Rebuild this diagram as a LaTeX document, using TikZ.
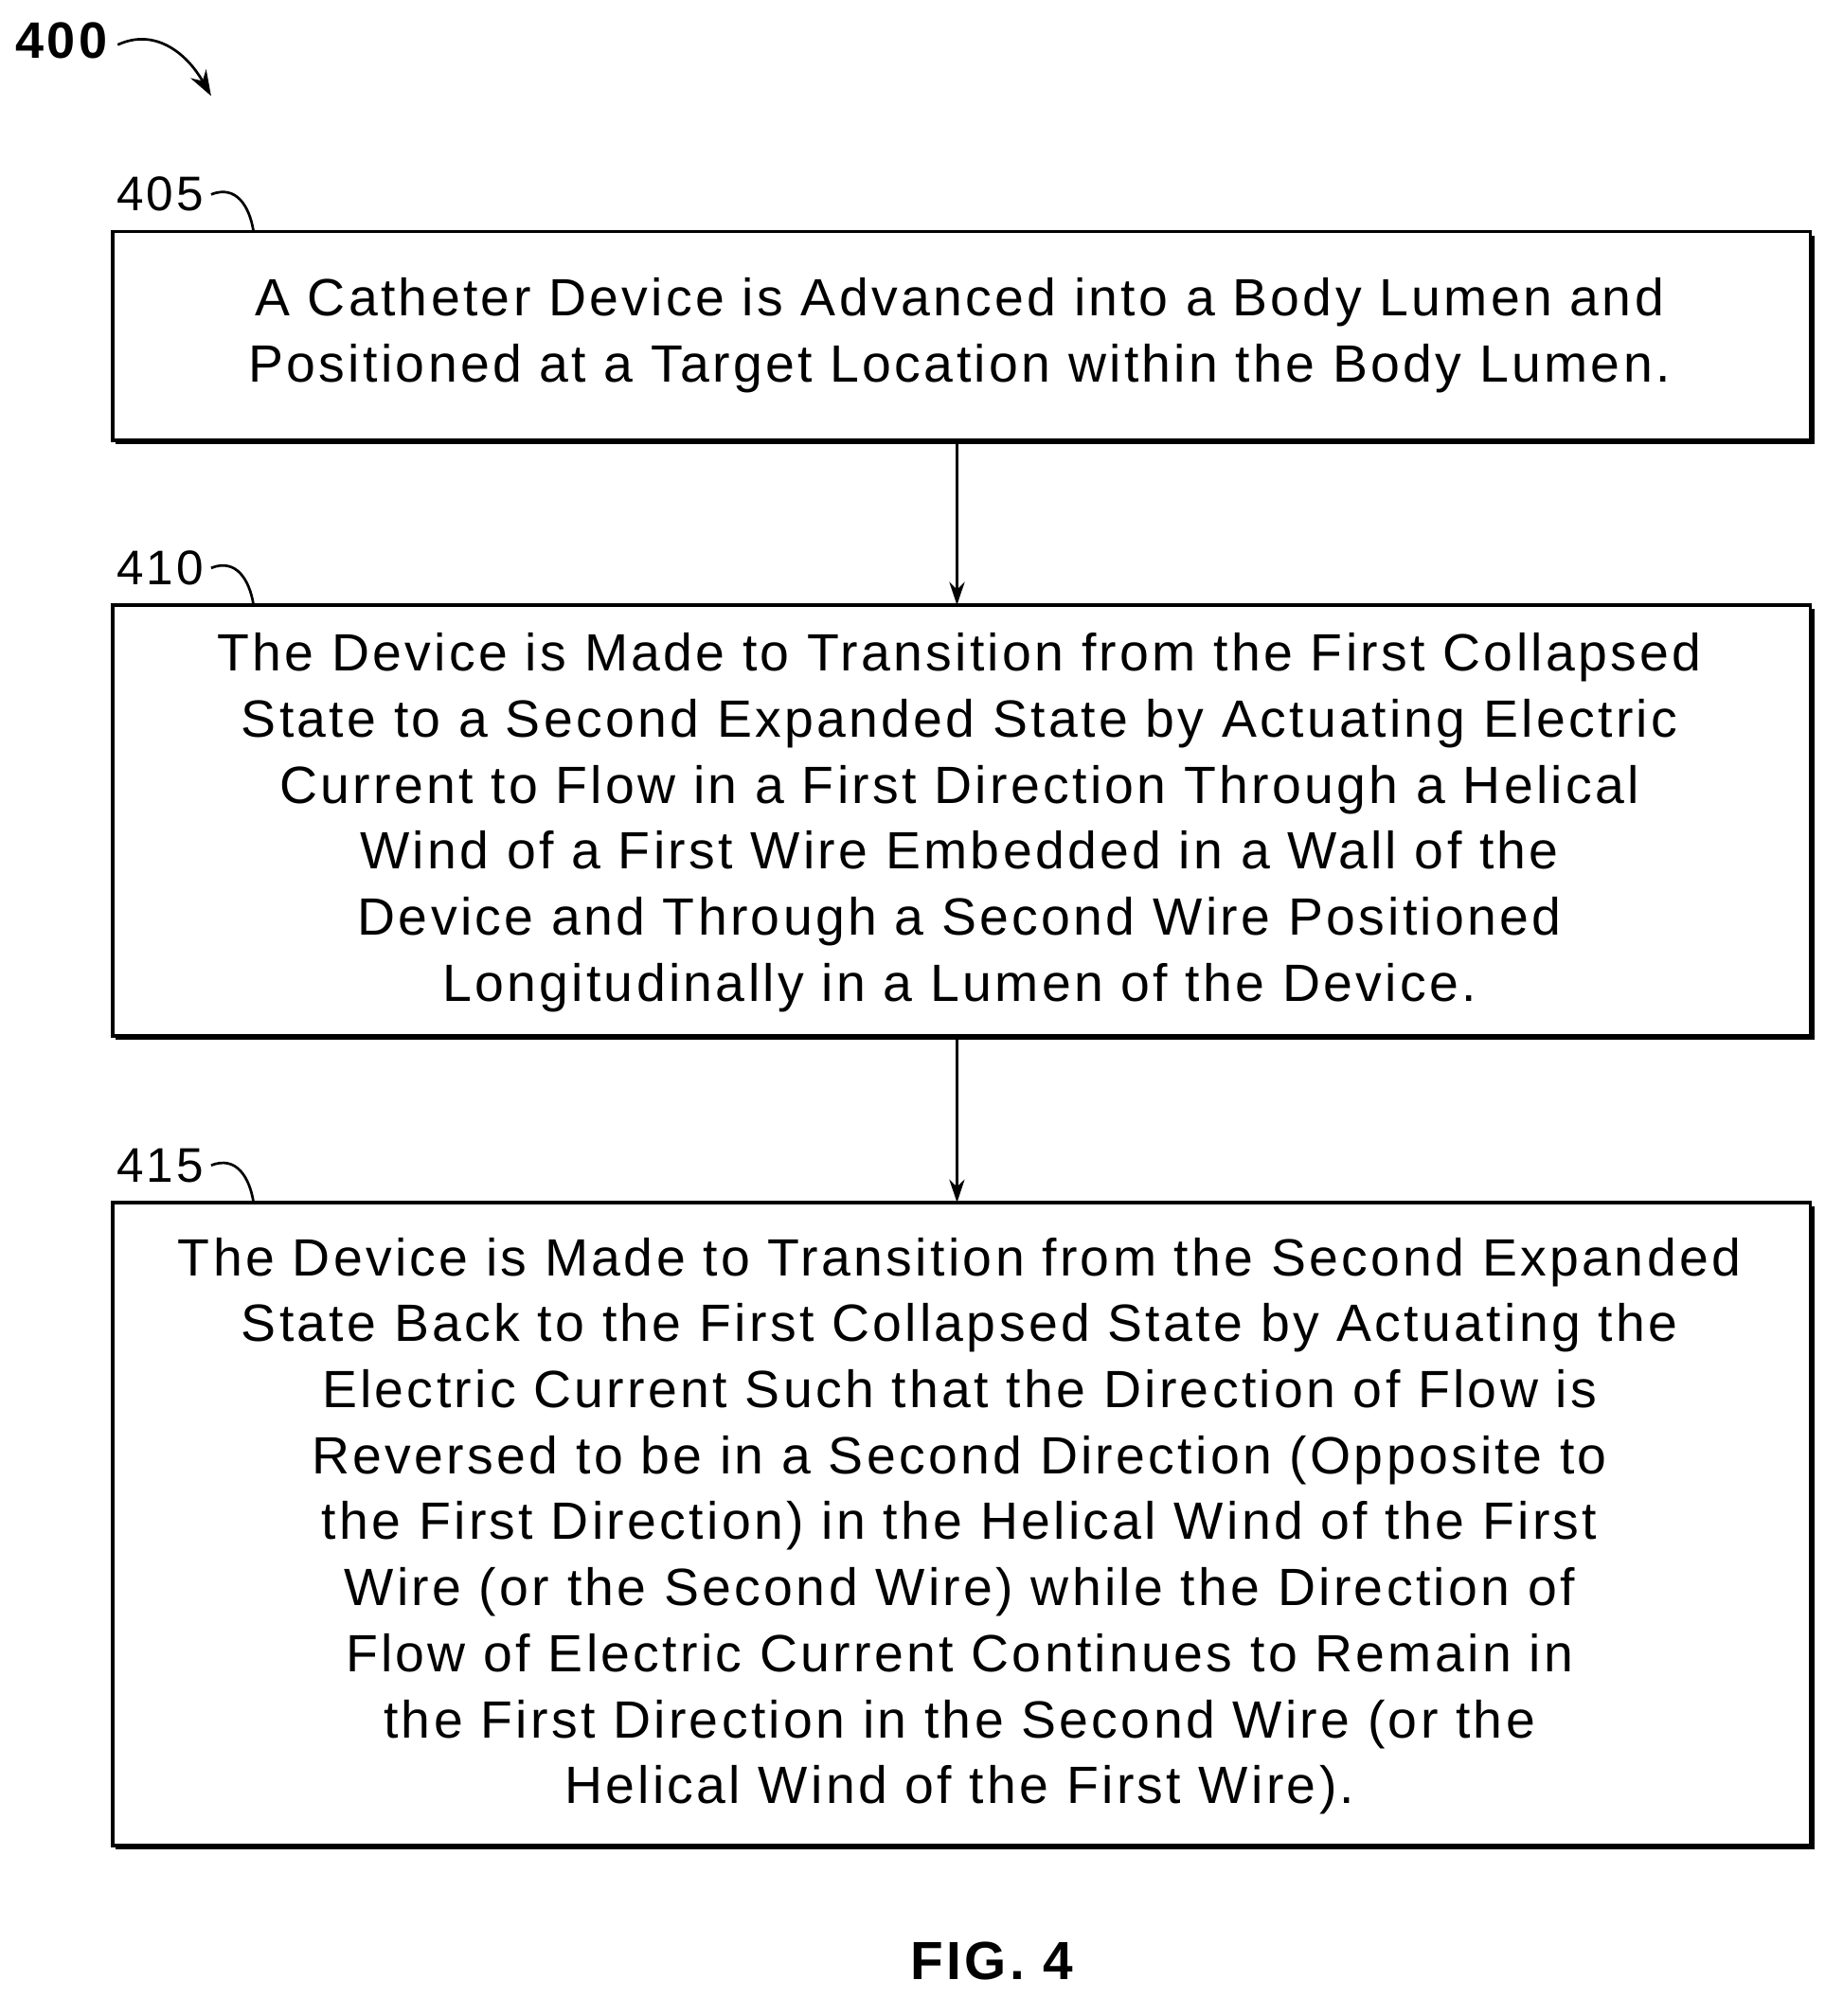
\documentclass[tikz,border=0pt]{standalone}
\usepackage{fontspec}
\setmainfont{Liberation Sans}[LetterSpace=6]
\usetikzlibrary{arrows.meta}
\begin{document}
\begin{tikzpicture}[x=0.5pt,y=-0.5pt,
  txt/.style={align=center,font=\fontsize{20.5}{25.8}\selectfont},
  lbl/.style={font=\fontsize{19}{22}\selectfont,anchor=base west},
  conn/.style={-{Stealth[length=9pt,width=6pt]},line width=1pt}]
\useasboundingbox (0,0) rectangle (1440,1576);
\foreach \t/\b in {181/344,473/810,940/1443}{
  \fill[black] (90,\t+3) rectangle (1418,\b+3);
  \draw[line width=1.4pt,fill=white] (88,\t) rectangle (1415,\b);
}
\coordinate (abot) at (748,344);
\coordinate (btop) at (748,473);
\coordinate (bbot) at (748,810);
\coordinate (ctop) at (748,940);
\node[txt] (ta) at (750,262) {A Catheter Device is Advanced into a Body Lumen and\\Positioned at a Target Location within the Body Lumen.};
\node[txt] (tb) at (750,643) {The Device is Made to Transition from the First Collapsed\\State to a Second Expanded State by Actuating Electric\\Current to Flow in a First Direction Through a Helical\\Wind of a First Wire Embedded in a Wall of the\\Device and Through a Second Wire Positioned\\Longitudinally in a Lumen of the Device.};
\node[txt] (tc) at (750,1193) {The Device is Made to Transition from the Second Expanded\\State Back to the First Collapsed State by Actuating the\\Electric Current Such that the Direction of Flow is\\Reversed to be in a Second Direction (Opposite to\\the First Direction) in the Helical Wind of the First\\Wire (or the Second Wire) while the Direction of\\Flow of Electric Current Continues to Remain in\\the First Direction in the Second Wire (or the\\Helical Wind of the First Wire).};
\draw[conn] (abot) -- (btop);
\draw[conn] (bbot) -- (ctop);
\node[lbl] (la) at (84,165) {405};
\node[lbl] (lb) at (84,457) {410};
\node[lbl] (lc) at (84,924) {415};
\foreach \y in {152,444,911}{
  \draw[line width=1pt] (165,\y) .. controls (185,\y-8) and (195,\y+10) .. (198,\y+28);
}
\node[font=\bfseries\fontsize{20}{24}\selectfont] (n400) at (48,32) {400};
\coordinate (e400) at (165,75);
\draw[-{Stealth[length=10pt,width=7pt]},line width=1pt] (92,35) .. controls (120,22) and (145,40) .. (e400);
\node[font=\bfseries\fontsize{21}{24}\selectfont] (fig) at (775,1533) {FIG. 4};
\end{tikzpicture}
\end{document}
